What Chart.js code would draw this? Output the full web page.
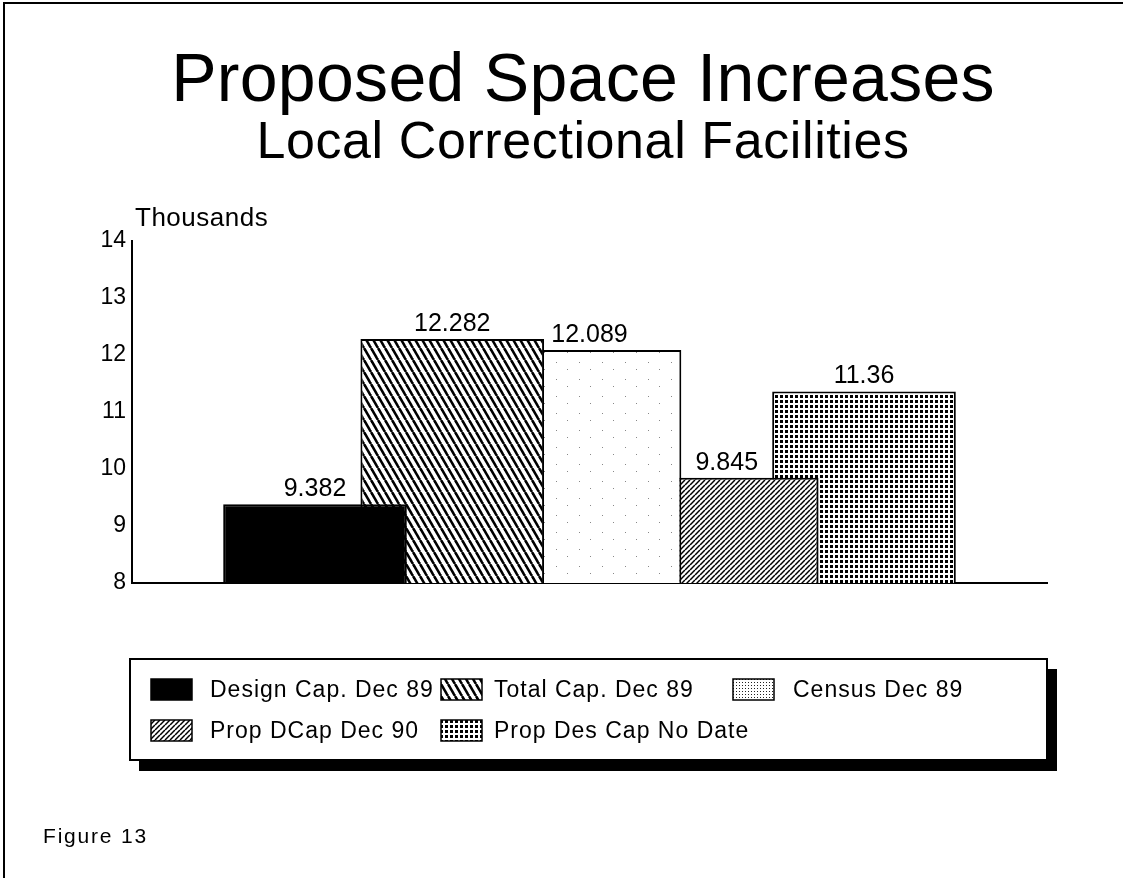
<!DOCTYPE html>
<html lang="en">
<head>
<meta charset="UTF-8">
<title>Proposed Space Increases</title>
<script src="https://cdn.jsdelivr.net/npm/chart.js"></script>
<style>
  html, body { margin: 0; padding: 0; background: #fff; }
  .wrap { position: relative; width: 1123px; height: 878px; }
</style>
</head>
<body>
<div class="wrap"><canvas id="chart"></canvas></div>
<script>
// data (values in thousands)
const categories = ['Local Correctional Facilities'];
const seriesNames = ['Design Cap. Dec 89', 'Total Cap. Dec 89', 'Census Dec 89', 'Prop DCap Dec 90', 'Prop Des Cap No Date'];
const seriesValues = [9.382, 12.282, 12.089, 9.845, 11.36];
const yTicks = [8, 9, 10, 11, 12, 13, 14];

const FONT = '"Liberation Sans", Arial, Helvetica, sans-serif';

// small hatch tiles, like the old plotter fills
function makePattern(kind) {
  const c = document.createElement('canvas');
  const g = c.getContext('2d');
  if (kind === 'solid') {
    return '#000';
  } else if (kind === 'back') {
    c.width = 7; c.height = 12;
    g.fillStyle = '#fff'; g.fillRect(0, 0, 7, 12);
    g.strokeStyle = '#000'; g.lineWidth = 2.6;
    [-7, 0, 7].forEach(x0 => { g.beginPath(); g.moveTo(x0, 0); g.lineTo(x0 + 7, 12); g.stroke(); });
  } else if (kind === 'fwd') {
    c.width = 5; c.height = 5;
    g.fillStyle = '#fff'; g.fillRect(0, 0, 5, 5);
    g.strokeStyle = '#000'; g.lineWidth = 1.5;
    [-5, 0, 5].forEach(x0 => { g.beginPath(); g.moveTo(x0, 5); g.lineTo(x0 + 5, 0); g.stroke(); });
  } else if (kind === 'dots') {
    c.width = 5; c.height = 5;
    g.fillStyle = '#fff'; g.fillRect(0, 0, 5, 5);
    g.fillStyle = '#000'; g.fillRect(0, 0, 3, 3);
  } else if (kind === 'speck') {
    c.width = 23; c.height = 17;
    g.fillStyle = '#fff'; g.fillRect(0, 0, 23, 17);
    g.fillStyle = '#888';
    g.fillRect(4, 5, 1, 1);
    g.fillRect(15, 12, 1, 1);
  } else if (kind === 'fine') {
    c.width = 3; c.height = 3;
    g.fillStyle = '#fff'; g.fillRect(0, 0, 3, 3);
    g.fillStyle = '#222'; g.fillRect(1, 1, 1, 1);
  }
  return g.createPattern(c, 'repeat');
}

const fills = ['solid', 'back', 'speck', 'fwd', 'dots'].map(makePattern);
const legendFills = ['solid', 'back', 'fine', 'fwd', 'dots'].map(makePattern);

const datasets = seriesNames.map((name, i) => ({
  label: name,
  data: [seriesValues[i]],
  backgroundColor: fills[i],
  legendFill: legendFills[i],
  borderColor: '#000',
  borderWidth: 2,
  borderSkipped: 'bottom'
}));

// value printed over each bar
const valueLabels = {
  id: 'valueLabels',
  afterDatasetsDraw(chart) {
    const ctx = chart.ctx;
    ctx.save();
    ctx.font = '25px ' + FONT;
    ctx.fillStyle = '#000';
    ctx.textAlign = 'center';
    ctx.textBaseline = 'alphabetic';
    chart.data.datasets.forEach((ds, i) => {
      chart.getDatasetMeta(i).data.forEach((bar, j) => {
        ctx.fillText(String(ds.data[j]), bar.x, bar.y - 8);
      });
    });
    ctx.restore();
  }
};

// titles, frame, unit label, boxed legend with drop shadow, figure number
const pageDecor = {
  id: 'pageDecor',
  afterDraw(chart) {
    const ctx = chart.ctx;
    ctx.save();
    ctx.fillStyle = '#000';
    ctx.fillRect(3, 2, 2, 876);
    ctx.fillRect(3, 2, 1120, 2);

    ctx.textAlign = 'center';
    ctx.textBaseline = 'alphabetic';
    ctx.font = '68px ' + FONT;
    ctx.letterSpacing = '0.3px';
    ctx.fillText('Proposed Space Increases', 583, 101);
    ctx.font = '52px ' + FONT;
    ctx.letterSpacing = '0.6px';
    ctx.fillText('Local Correctional Facilities', 583, 158);

    ctx.font = '26px ' + FONT;
    ctx.letterSpacing = '0.5px';
    ctx.textAlign = 'left';
    ctx.fillText('Thousands', 135, 226);

    // legend box
    ctx.fillRect(139, 760, 918, 11);
    ctx.fillRect(1047, 669, 10, 102);
    ctx.fillStyle = '#fff';
    ctx.fillRect(130, 659, 917, 101);
    ctx.strokeStyle = '#000';
    ctx.lineWidth = 2;
    ctx.strokeRect(130, 659, 917, 101);

    const swatchX = [151, 441, 733];
    const textX = [210, 494, 793];
    const rowY = [690, 731];
    ctx.font = '23px ' + FONT;
    ctx.letterSpacing = '1px';
    ctx.textBaseline = 'middle';
    chart.data.datasets.forEach((ds, i) => {
      const col = i < 3 ? i : i - 3;
      const row = i < 3 ? 0 : 1;
      const y = rowY[row];
      ctx.fillStyle = ds.legendFill;
      ctx.fillRect(swatchX[col], y - 11, 41, 21);
      ctx.lineWidth = 1.5;
      ctx.strokeRect(swatchX[col], y - 11, 41, 21);
      ctx.fillStyle = '#000';
      ctx.fillText(ds.label, textX[col], y + 1);
    });

    ctx.font = '21px ' + FONT;
    ctx.letterSpacing = '1.8px';
    ctx.textBaseline = 'alphabetic';
    ctx.fillText('Figure 13', 43, 843);
    ctx.restore();
  }
};

new Chart(document.getElementById('chart'), {
  type: 'bar',
  data: { labels: categories, datasets: datasets },
  plugins: [valueLabels, pageDecor],
  options: {
    responsive: true,
    maintainAspectRatio: false,
    animation: false,
    categoryPercentage: 0.75,
    barPercentage: 1.338,
    layout: { padding: { top: 241, left: 92, right: 76, bottom: 295 } },
    plugins: {
      legend: { display: false },
      tooltip: { enabled: false }
    },
    scales: {
      x: {
        grid: { display: false, drawTicks: false },
        ticks: { display: false },
        border: { display: true, color: '#000', width: 2 },
        afterFit(scale) { scale.height = 0; }
      },
      y: {
        min: yTicks[0],
        max: yTicks[yTicks.length - 1],
        grid: { display: false, drawTicks: false },
        border: { display: true, color: '#000', width: 2 },
        ticks: {
          stepSize: 1,
          padding: 6,
          color: '#000',
          font: { family: FONT, size: 23 }
        },
        afterFit(scale) { scale.width = 40; }
      }
    }
  }
});
</script>
</body>
</html>
